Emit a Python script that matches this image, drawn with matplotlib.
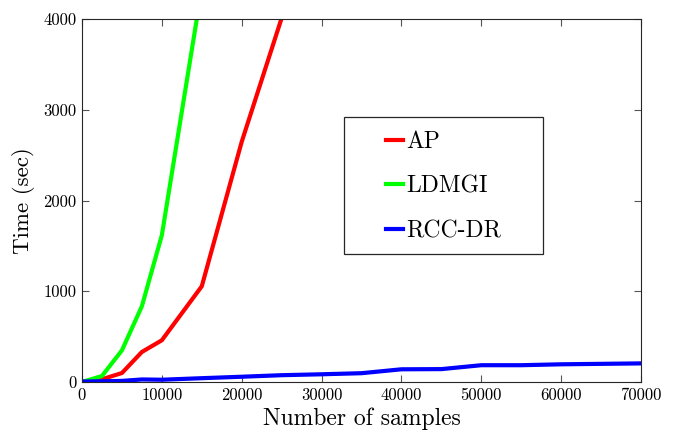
import matplotlib
matplotlib.use("Agg")
import matplotlib.pyplot as plt
from matplotlib.patches import Rectangle

plt.rcParams['font.family'] = 'cmr10'
plt.rcParams['mathtext.fontset'] = 'cm'
plt.rcParams['axes.formatter.use_mathtext'] = True

ap_x = [0, 2500, 5000, 7500, 10000, 15000, 20000, 25000]
ap_y = [0, 30, 99, 331, 460, 1055, 2647, 4010]

ldmgi_x = [0, 2500, 5000, 7500, 10000, 15000]
ldmgi_y = [0, 66, 349, 835, 1618, 4340]

rcc_x = [0, 2500, 5000, 7500, 10000, 15000, 20000, 25000, 30000, 35000,
         40000, 45000, 50000, 55000, 60000, 65000, 70000]
rcc_y = [5, 8, 12, 28, 25, 42, 58, 75, 85, 97, 140, 142, 185, 185, 195, 200, 205]

labels = ['AP', 'LDMGI', 'RCC-DR']
x_ticks = [0, 10000, 20000, 30000, 40000, 50000, 60000, 70000]
y_ticks = [0, 1000, 2000, 3000, 4000]

fig = plt.figure(figsize=(6.82, 4.32), dpi=100)
ax = fig.add_axes([82/682, 1-382/432, (641-82)/682, (382-19)/432])

lw = 3
ax.plot(ap_x, ap_y, color='#ff0000', lw=lw, label=labels[0])
ax.plot(ldmgi_x, ldmgi_y, color='#00ff00', lw=lw, label=labels[1])
ax.plot(rcc_x, rcc_y, color='#0000ff', lw=lw, label=labels[2])

ax.set_xlim(0, 70000)
ax.set_ylim(0, 4000)
ax.set_xticks(x_ticks)
ax.set_yticks(y_ticks)
ax.set_xticklabels([str(v) for v in x_ticks])
ax.set_yticklabels([str(v) for v in y_ticks])
ax.tick_params(direction='in', length=5, width=0.8, color='#555555',
               labelsize=12, top=True, right=True, pad=4)
for s in ax.spines.values():
    s.set_color('#262626')
    s.set_linewidth(0.8)

ax.set_xlabel('Number of samples', fontsize=17, labelpad=3)
ax.set_ylabel('Time (sec)', fontsize=16.5, labelpad=6)

fig.patches.append(Rectangle((344/682, 1-254/432), 199/682, 137/432,
                             transform=fig.transFigure, fill=False,
                             edgecolor='#262626', lw=0.9))
ax.legend(loc='upper left', bbox_to_anchor=(386/682, 1-131/432),
          bbox_transform=fig.transFigure, frameon=False, fontsize=17,
          handlelength=0.74, handletextpad=0.13, labelspacing=0.95,
          borderpad=0, borderaxespad=0)

fig.savefig('out.png', dpi=100)
